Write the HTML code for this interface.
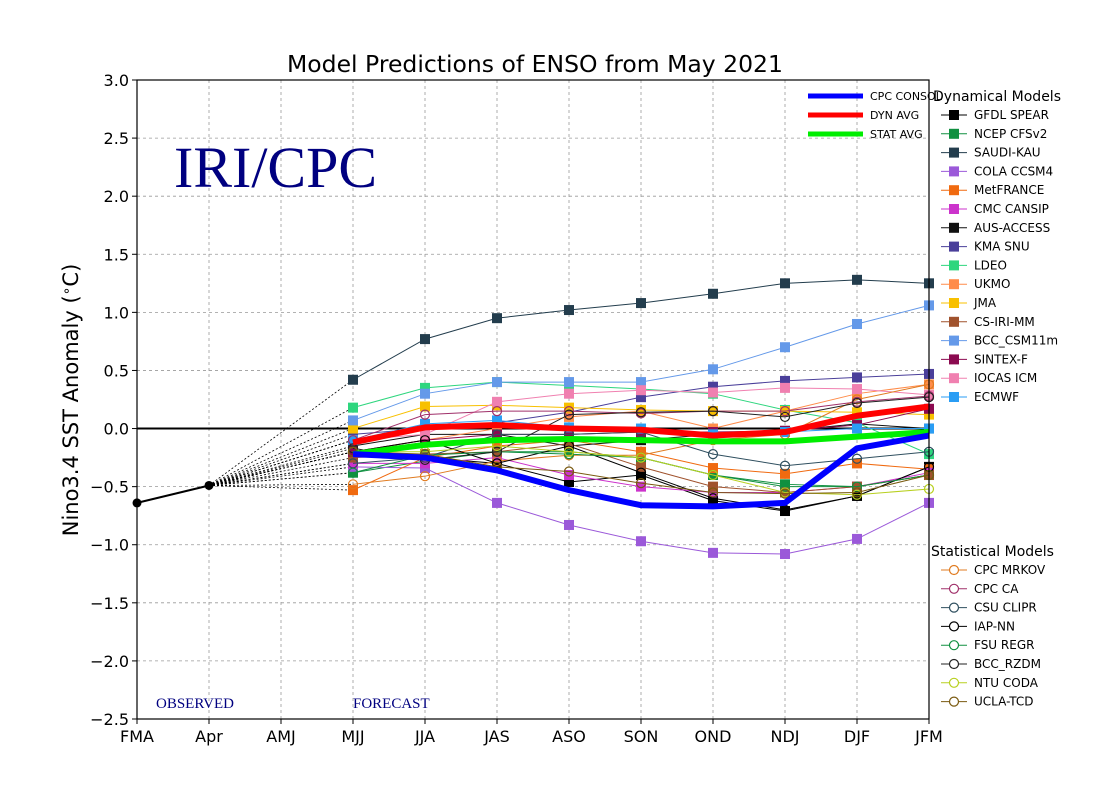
<!DOCTYPE html>
<html><head><meta charset="utf-8">
<style>
html,body{margin:0;padding:0;background:#fff;}
svg{display:block;font-family:"DejaVu Sans","Liberation Sans",sans-serif;}
</style></head>
<body>
<svg id="chart" width="1100" height="800" viewBox="0 0 1100 800" xmlns="http://www.w3.org/2000/svg">
<rect width="1100" height="800" fill="#fff"/>
<text x="535" y="72" font-size="23.5" text-anchor="middle">Model Predictions of ENSO from May 2021</text>
<text transform="translate(78,400) rotate(-90)" font-size="21" text-anchor="middle">Nino3.4 SST Anomaly (<tspan font-size="14" dy="-7">∘</tspan><tspan dy="7">C)</tspan></text>
<g id="grid"></g>
<g id="series"></g>
<g id="ticks"></g>
<text x="174" y="187" font-family="'Liberation Serif',serif" font-size="58" fill="#000080">IRI/CPC</text>
<text x="156" y="708" font-family="'Liberation Serif',serif" font-size="15" fill="#000080">OBSERVED</text>
<text x="353" y="708" font-family="'Liberation Serif',serif" font-size="15" fill="#000080">FORECAST</text>
<rect x="137" y="80" width="792" height="639" fill="none" stroke="#000" stroke-width="1.2"/>
<g id="legend"></g>
</svg>
<script>
const categories=["FMA","Apr","AMJ","MJJ","JJA","JAS","ASO","SON","OND","NDJ","DJF","JFM"];
const yTicks=[3.0,2.5,2.0,1.5,1.0,0.5,0.0,-0.5,-1.0,-1.5,-2.0,-2.5];
const observed=[-0.64,-0.49];
const consol=[-0.22,-0.25,-0.36,-0.53,-0.66,-0.67,-0.64,-0.17,-0.06];
const dynAvg=[-0.12,0.01,0.03,0.0,-0.01,-0.06,-0.03,0.11,0.19];
const statAvg=[-0.22,-0.14,-0.10,-0.09,-0.10,-0.11,-0.11,-0.07,-0.03];
const dynNames=["GFDL SPEAR","NCEP CFSv2","SAUDI-KAU","COLA CCSM4","MetFRANCE","CMC CANSIP","AUS-ACCESS","KMA SNU","LDEO","UKMO","JMA","CS-IRI-MM","BCC_CSM11m","SINTEX-F","IOCAS ICM","ECMWF"];
const dynColors=["#000000","#109040","#233d4d","#9b59d9","#f06a10","#cc33cc","#111111","#4a3f9a","#2ed67e","#ff8c4a","#f8c000","#a0522d","#6499e9","#8b0a50","#f080b0","#2a9df4"];
const dynValues=[
[-0.20,-0.25,-0.30,-0.46,-0.40,-0.62,-0.71,-0.58,-0.33],
[-0.38,-0.28,-0.20,-0.20,-0.25,-0.40,-0.48,-0.50,-0.40],
[0.42,0.77,0.95,1.02,1.08,1.16,1.25,1.28,1.25],
[-0.33,-0.34,-0.64,-0.83,-0.97,-1.07,-1.08,-0.95,-0.64],
[-0.53,-0.25,-0.15,-0.10,-0.20,-0.34,-0.39,-0.30,-0.35],
[-0.30,-0.30,-0.25,-0.40,-0.50,-0.55,-0.55,-0.50,-0.38],
[-0.15,-0.05,-0.05,-0.15,-0.10,-0.05,-0.02,0.04,0.00],
[-0.05,0.00,0.05,0.14,0.27,0.36,0.41,0.44,0.47],
[0.18,0.35,0.40,0.37,0.34,0.30,0.16,0.05,-0.22],
[-0.20,-0.10,0.00,0.10,0.15,0.00,0.15,0.30,0.38],
[0.00,0.19,0.20,0.18,0.16,0.15,0.15,0.14,0.12],
[-0.25,-0.22,-0.20,-0.13,-0.33,-0.50,-0.55,-0.50,-0.40],
[0.07,0.30,0.40,0.40,0.40,0.51,0.70,0.90,1.06],
[-0.20,-0.10,-0.05,-0.05,-0.03,-0.03,-0.02,0.03,0.17],
[-0.10,-0.05,0.23,0.30,0.33,0.31,0.35,0.34,0.29],
[-0.10,0.04,0.07,0.01,0.00,-0.05,-0.03,0.00,0.00]];
const statNames=["CPC MRKOV","CPC CA","CSU CLIPR","IAP-NN","FSU REGR","BCC_RZDM","NTU CODA","UCLA-TCD"];
const statColors=["#e07b20","#a0306a","#2f4f5f","#000000","#109040","#222222","#b8d020","#7a5a10"];
const statValues=[
[-0.48,-0.41,-0.28,-0.23,-0.23,-0.10,-0.05,0.25,0.38],
[-0.10,0.12,0.15,0.15,0.13,0.15,0.15,0.23,0.28],
[-0.30,-0.25,-0.05,-0.05,-0.03,-0.22,-0.32,-0.26,-0.20],
[-0.20,-0.10,-0.30,-0.15,-0.38,-0.60,-0.70,-0.58,-0.33],
[-0.38,-0.23,-0.20,-0.22,-0.25,-0.40,-0.50,-0.50,-0.40],
[-0.17,-0.27,-0.20,0.12,0.14,0.15,0.10,0.22,0.27],
[-0.20,-0.20,-0.15,-0.20,-0.25,-0.40,-0.55,-0.57,-0.52],
[-0.20,-0.22,-0.33,-0.37,-0.47,-0.55,-0.56,-0.55,-0.40]];

const NS="http://www.w3.org/2000/svg";
const X0=137,X1=929,Y0=80,Y1=719,VMAX=3.0,VMIN=-2.5;
function xs(i){return X0+i*(X1-X0)/(categories.length-1);}
function ys(v){return Y0+(VMAX-v)*(Y1-Y0)/(VMAX-VMIN);}
function mk(tag,attrs,parent){const e=document.createElementNS(NS,tag);for(const k in attrs)e.setAttribute(k,attrs[k]);parent.appendChild(e);return e;}
const grid=document.getElementById('grid'),ser=document.getElementById('series'),tk=document.getElementById('ticks'),lg=document.getElementById('legend');

categories.forEach((c,i)=>{
  const l=mk('line',{x1:xs(i),x2:xs(i),y1:Y0,y2:Y1,stroke:'#999','stroke-width':0.8,'stroke-dasharray':'3,3'},grid);
  
  
  const t=mk('text',{x:xs(i),y:Y1+23,'font-size':16,'text-anchor':'middle'},tk);
  t.textContent=c;
  
  
  mk('line',{x1:xs(i),x2:xs(i),y1:Y1,y2:Y1+5,stroke:'#000'},tk);
});
yTicks.forEach(v=>{
  const l=mk('line',{x1:X0,x2:X1,y1:ys(v),y2:ys(v),stroke:'#999','stroke-width':0.8,'stroke-dasharray':'3,3'},grid);
  
  
  const t=mk('text',{x:X0-8,y:ys(v)+6,'font-size':16,'text-anchor':'end'},tk);
  t.textContent=(v<0?'\u2212':'')+Math.abs(v).toFixed(1);
  
  
  mk('line',{x1:X0-5,x2:X0,y1:ys(v),y2:ys(v),stroke:'#000'},tk);
});
const zl=mk('line',{x1:X0,x2:X1,y1:ys(0),y2:ys(0),stroke:'#000','stroke-width':2},grid);



function pts(vals,start){return vals.map((v,i)=>xs(start+i)+','+ys(v)).join(' ');}
const allFirst=dynValues.map(a=>a[0]).concat(statValues.map(a=>a[0]));
allFirst.forEach(v=>{
  const l=mk('line',{x1:xs(1),y1:ys(observed[1]),x2:xs(3),y2:ys(v),stroke:'#000','stroke-width':0.8,'stroke-dasharray':'2,2'},ser);
  
  
});
function drawModel(vals,color,square,name){
  const g=mk('g',{},ser);
  
  
  mk('polyline',{points:pts(vals,3),fill:'none',stroke:color,'stroke-width':1},g);
  vals.forEach((v,i)=>{
    if(square) mk('rect',{x:xs(3+i)-5,y:ys(v)-5,width:10,height:10,fill:color},g);
    else mk('circle',{cx:xs(3+i),cy:ys(v),r:4.5,fill:'none',stroke:color,'stroke-width':1.2},g);
  });
}
dynValues.forEach((v,k)=>drawModel(v,dynColors[k],true,dynNames[k]));
statValues.forEach((v,k)=>drawModel(v,statColors[k],false,statNames[k]));
const ob=mk('polyline',{points:pts(observed,0),fill:'none',stroke:'#000','stroke-width':2},ser);


observed.forEach((v,i)=>mk('circle',{cx:xs(i),cy:ys(v),r:4.5,fill:'#000'},ser));
[[statAvg,'#00ee00','stat-avg-line'],[dynAvg,'#ff0000','dyn-avg-line'],[consol,'#0000ff','cpc-consol-line']].forEach(a=>{
  const p=mk('polyline',{points:pts(a[0],3),fill:'none',stroke:a[1],'stroke-width':6,'stroke-linejoin':'round'},ser);
  
  
});

[['CPC CONSOL','#0000ff'],['DYN AVG','#ff0000'],['STAT AVG','#00ee00']].forEach((e,i)=>{
  const y=96+i*19;
  const g=mk('g',{},lg);
  
  
  mk('line',{x1:808,x2:863,y1:y,y2:y,stroke:e[1],'stroke-width':5},g);
  const t=mk('text',{x:870,y:y+4,'font-size':11},g);t.textContent=e[0];
});
const dt=mk('text',{x:933,y:101,'font-size':14},lg);dt.textContent='Dynamical Models';


dynNames.forEach((n,i)=>{
  const y=115+i*18.8;
  const g=mk('g',{},lg);
  
  
  mk('line',{x1:941,x2:967,y1:y,y2:y,stroke:dynColors[i],'stroke-width':1},g);
  mk('rect',{x:949,y:y-5,width:10,height:10,fill:dynColors[i]},g);
  const t=mk('text',{x:974,y:y+4,'font-size':12},g);t.textContent=n;
});
const st=mk('text',{x:931,y:556,'font-size':14},lg);st.textContent='Statistical Models';


statNames.forEach((n,i)=>{
  const y=570+i*18.8;
  const g=mk('g',{},lg);
  
  
  mk('line',{x1:941,x2:967,y1:y,y2:y,stroke:statColors[i],'stroke-width':1},g);
  mk('circle',{cx:954,cy:y,r:4.5,fill:'#fff',stroke:statColors[i],'stroke-width':1.2},g);
  const t=mk('text',{x:974,y:y+4,'font-size':12},g);t.textContent=n;
});
</script>
</body></html>
